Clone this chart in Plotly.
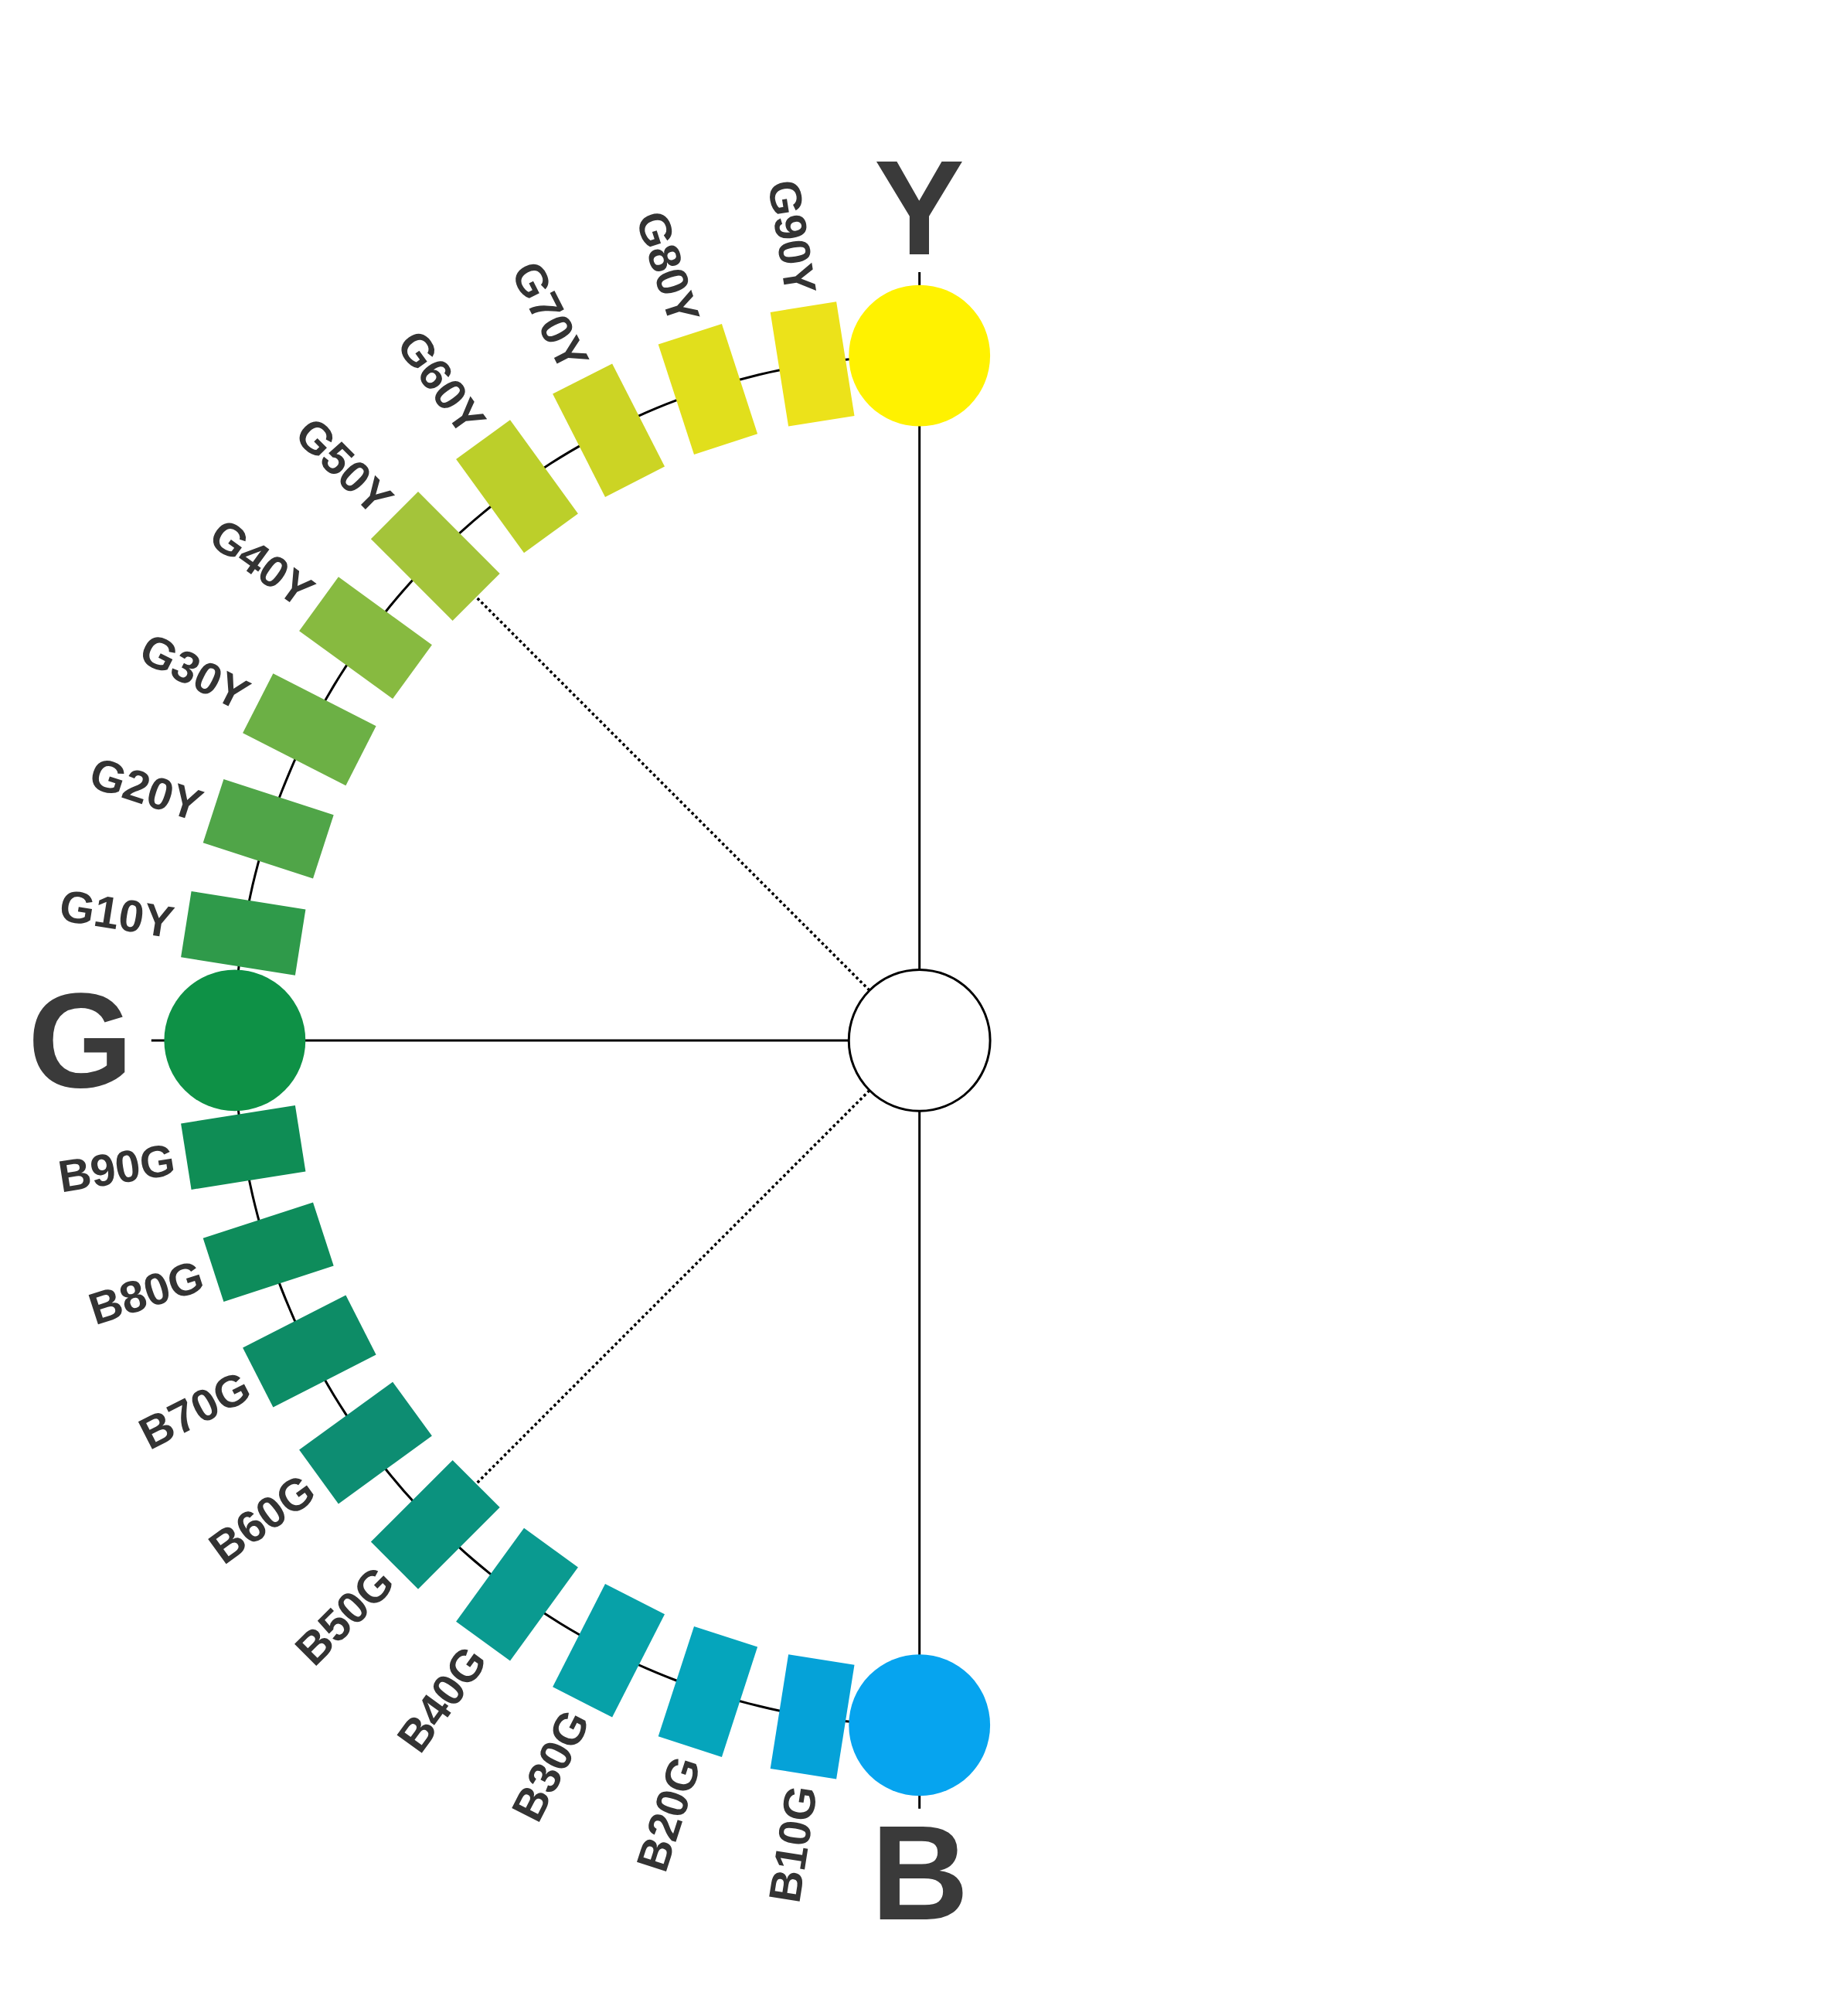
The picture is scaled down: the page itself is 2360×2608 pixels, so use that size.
import numpy as np
import plotly.graph_objects as go

upper_labels = ["G10Y","G20Y","G30Y","G40Y","G50Y","G60Y","G70Y","G80Y","G90Y"]
upper_angles = [171,162,153,144,135,126,117,108,99]
upper_colors = ["#2f9a4a","#50a548","#6cb045","#87ba40","#a4c43a","#bccf2a","#ccd424","#e1df1c","#ece21a"]
lower_labels = ["B90G","B80G","B70G","B60G","B50G","B40G","B30G","B20G","B10G"]
lower_angles = [189,198,207,216,225,234,243,252,261]
lower_colors = ["#0f8d55","#0e8c5b","#0d8c66","#0d8d72","#0b927e","#0a9a90","#07a1a8","#05a5bc","#05a2d8"]
hue_names = ["Y","G","B"]
hue_angles = [90,180,270]
hue_colors = ["#fff200","#0e9146","#06a4ef"]

S = 1.662
cx, cy, R = 711*S, 805*S, 533*S
W, H = 2360, 2608

def pt(theta, r):
    t = np.radians(theta)
    return cx + r*np.cos(t), cy - r*np.sin(t)

shapes = []
ann = []
th = np.linspace(90, 270, 200)
arc = " ".join(("M" if i == 0 else "L") + f"{pt(a,R)[0]:.1f},{pt(a,R)[1]:.1f}" for i, a in enumerate(th))
shapes.append(dict(type="path", path=arc, line=dict(color="black", width=3)))
for a in hue_angles:
    x0, y0 = pt(a, 55*S); x1, y1 = pt(a, R)
    shapes.append(dict(type="line", x0=x0, y0=y0, x1=x1, y1=y1, line=dict(color="black", width=3)))
    x0, y0 = pt(a, R); x1, y1 = pt(a, R+65*S)
    shapes.append(dict(type="line", x0=x0, y0=y0, x1=x1, y1=y1, line=dict(color="black", width=3)))
for a in [135, 225]:
    x0, y0 = pt(a, 55*S); x1, y1 = pt(a, R-45*S)
    shapes.append(dict(type="line", x0=x0, y0=y0, x1=x1, y1=y1, line=dict(color="black", width=3.5, dash="dot")))
hl, hw = 45*S, 26*S
for labs, angs, cols in [(upper_labels, upper_angles, upper_colors), (lower_labels, lower_angles, lower_colors)]:
    for lab, a, c in zip(labs, angs, cols):
        t = np.radians(a)
        ux, uy = np.cos(t), -np.sin(t)
        vx, vy = -uy, ux
        mx, my = pt(a, R)
        pts = [(mx+sx*hl*ux+sy*hw*vx, my+sx*hl*uy+sy*hw*vy) for sx, sy in [(1,1),(1,-1),(-1,-1),(-1,1)]]
        path = "M" + " L".join(f"{p[0]:.1f},{p[1]:.1f}" for p in pts) + " Z"
        shapes.append(dict(type="path", path=path, fillcolor=c, line=dict(width=0)))
        lx, ly = pt(a, R+100*S)
        ann.append(dict(x=lx, y=ly, text=f"<b>{lab}</b>", showarrow=False, textangle=180-a,
                        font=dict(family="Liberation Sans", size=58, color="#333333")))
cr = 55*S
for n, a, c in zip(hue_names, hue_angles, hue_colors):
    x, y = pt(a, R)
    shapes.append(dict(type="circle", x0=x-cr, x1=x+cr, y0=y-cr, y1=y+cr, fillcolor=c, line=dict(width=0)))
    lx, ly = pt(a, R+(120 if a == 180 else 115)*S)
    ann.append(dict(x=lx, y=ly, text=f"<b>{n}</b>", showarrow=False,
                    font=dict(family="Liberation Sans", size=175, color="#3a3a3a")))
shapes.append(dict(type="circle", x0=cx-cr, x1=cx+cr, y0=cy-cr, y1=cy+cr, fillcolor="white", line=dict(color="black", width=3)))

fig = go.Figure(go.Scatter(x=[cx], y=[cy], mode="markers", marker=dict(opacity=0), hoverinfo="skip"))
fig.update_layout(width=W, height=H, margin=dict(l=0, r=0, t=0, b=0), plot_bgcolor="white", paper_bgcolor="white",
                  shapes=shapes, annotations=ann, showlegend=False,
                  xaxis=dict(range=[0, W], visible=False),
                  yaxis=dict(range=[H, 0], visible=False))
fig.write_html("out.html")
